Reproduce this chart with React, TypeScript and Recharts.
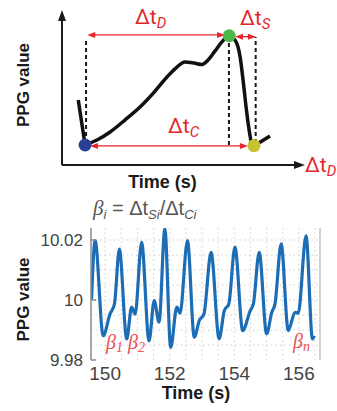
import React from "react";
import {
  ComposedChart,
  LineChart,
  Line,
  XAxis,
  YAxis,
  ReferenceLine,
  ReferenceDot,
} from "recharts";

// ---- top panel: one pulse, drawn in schematic units (0..100 on both axes)
const leadInX = [6.7, 9.5];
const leadInY = [41.9, 12.9];
const pulseX = [9.5, 14.4, 19.8, 25.9, 32.1, 38.3, 43.2, 47.3, 50.6, 54.3, 57.6, 60.1, 63.0, 65.8, 68.7, 71.2, 73.3, 74.7, 75.9, 77.2, 78.2, 79.0];
const pulseY = [12.9, 16.1, 21.3, 29.0, 37.4, 47.7, 56.8, 63.2, 66.5, 65.8, 64.8, 67.7, 73.6, 79.4, 83.2, 80.6, 69.7, 52.3, 35.5, 20.7, 12.9, 12.3];
const tailX = [79.0, 85.6];
const tailY = [12.3, 18.7];

// foot, systolic peak, end of pulse
const markerX = [9.5, 68.8, 79.0];
const markerY = [12.9, 83.4, 12.5];

// dashed verticals
const guideX = [9.9, 68.7, 79.7];
const guideTop = [81.9, 78.7, 82.6];
const guideBottom = [14.2, 12.9, 14.2];

// Δt_D, Δt_S, Δt_C intervals
const spanStart = [10.4, 71.2, 11.5];
const spanEnd = [67.1, 79.8, 76.5];
const spanY = [83.9, 82.8, 12.3];

// ---- bottom panel: PPG trace
const ppgTime = [
  149.58, 149.69, 149.94, 150.15, 150.29, 150.44, 150.67, 150.82, 150.93, 151.13,
  151.36, 151.52, 151.67, 151.85, 152.03, 152.22, 152.32, 152.55, 152.76, 152.92,
  153.06, 153.28, 153.53, 153.69, 153.83, 154.02, 154.26, 154.49, 154.59, 154.77,
  155.0, 155.16, 155.26, 155.45, 155.67, 155.88, 155.98, 156.22, 156.42, 156.47,
];
const ppgValue = [
  10.0003, 10.0198, 9.9881, 9.9953, 9.9987, 10.017, 9.987, 9.9976, 9.9953, 10.0192,
  9.9864, 9.9998, 9.9926, 10.0237, 9.9842, 9.9976, 9.9956, 10.0198, 9.9876, 9.9933,
  9.9953, 10.0159, 9.9871, 9.9964, 9.9987, 10.0176, 9.9898, 9.9964, 9.9987, 10.0159,
  9.9887, 9.9959, 9.9987, 10.0187, 9.9898, 9.9959, 9.9956, 10.0214, 9.987, 9.9881,
];
const timeTicks = [150, 152, 154, 156];
const valueTicks = [9.98, 10, 10.02];
const timeDomain = [149.563, 156.653];
const valueDomain = [9.98, 10.024];
const gridTimes = [150, 150.5, 151, 151.5, 152, 152.5, 153, 153.5, 154, 154.5, 155, 155.5, 156, 156.5];
const gridValues = [9.985, 9.99, 9.995, 10, 10.005, 10.01, 10.015, 10.02];

const toPoints = (xs: number[], ys: number[]) => xs.map((x, i) => ({ x, y: ys[i] }));
const leadIn = toPoints(leadInX, leadInY);
const pulse = toPoints(pulseX, pulseY);
const tail = toPoints(tailX, tailY);
const ppgData = ppgTime.map((t, i) => ({ t, v: ppgValue[i] }));

const RED = "#e4252b";
const SOFT_RED = "#ea5055";
const BLUE = "#1c6db5";
const MARKER_FILL = ["#2a3f96", "#4bb84a", "#c4c332"];
const SANS = "'Liberation Sans', Arial, sans-serif";

// line with filled arrow heads, drawn from the coordinates Recharts hands over
const arrow = (color: string, width: number, len: number, half: number, both: boolean) => (p: any) => {
  const { x1, y1, x2, y2 } = p;
  const a = Math.atan2(y2 - y1, x2 - x1);
  const c = Math.cos(a);
  const s = Math.sin(a);
  const head = (x: number, y: number, dir: number) => {
    const bx = x - dir * len * c;
    const by = y - dir * len * s;
    return `${x},${y} ${bx - half * s},${by + half * c} ${bx + half * s},${by - half * c}`;
  };
  return (
    <g>
      <line
        x1={both ? x1 + len * 0.6 * c : x1}
        y1={both ? y1 + len * 0.6 * s : y1}
        x2={x2 - len * 0.6 * c}
        y2={y2 - len * 0.6 * s}
        stroke={color}
        strokeWidth={width}
      />
      <polygon points={head(x2, y2, 1)} fill={color} />
      {both && <polygon points={head(x1, y1, -1)} fill={color} />}
    </g>
  );
};

const ValueTick = (p: any) => {
  const { x, y, payload } = p;
  return (
    <g>
      <line x1={x + 8} x2={x + 13} y1={y} y2={y} stroke="#8a8a8a" strokeWidth={1.5} />
      <text x={x} y={y} dy="0.36em" textAnchor="end" fontSize={17} fill="#444" fontFamily={SANS}>
        {payload.value}
      </text>
    </g>
  );
};

const Delta = ({ x, y, sub }: { x: number; y: number; sub: string }) => (
  <text x={x} y={y} fill={RED} fontFamily="Roboto, sans-serif" fontSize={21}>
    Δt
    <tspan fontSize={15} dy={4} fontStyle="italic">{sub}</tspan>
  </text>
);

const Beta = ({ x, y, sub }: { x: number; y: number; sub: string }) => (
  <text x={x} y={y} fill={SOFT_RED} fontFamily="'Liberation Serif', serif" fontStyle="italic" fontSize={20}>
    β
    <tspan fontSize={14} dy={3}>{sub}</tspan>
  </text>
);

export default function App() {
  return (
    <div style={{ position: "absolute", left: 0, top: 0, width: 337, height: 411, background: "#fff", overflow: "hidden" }}>
      <div style={{ position: "absolute", left: 0, top: 0 }}>
        <ComposedChart width={337} height={200} margin={{ top: 10, right: 32, bottom: 35, left: 62 }}>
          <XAxis type="number" dataKey="x" domain={[0, 100]} hide />
          <YAxis type="number" domain={[0, 100]} hide />
          {guideX.map((gx, i) => (
            <ReferenceLine
              key={"g" + i}
              segment={[{ x: gx, y: guideBottom[i] }, { x: gx, y: guideTop[i] }]}
              stroke="#1a1a1a"
              strokeWidth={2}
              strokeDasharray="4 3"
            />
          ))}
          {spanStart.map((sx, i) => (
            <ReferenceLine
              key={"s" + i}
              segment={[{ x: sx, y: spanY[i] }, { x: spanEnd[i], y: spanY[i] }]}
              ifOverflow="visible"
              shape={arrow(RED, 1.3, 8, 3, true)}
            />
          ))}
          <ReferenceLine segment={[{ x: 0, y: 0 }, { x: 0, y: 100 }]} ifOverflow="visible" shape={arrow("#1a1a1a", 2, 11, 4, false)} />
          <ReferenceLine segment={[{ x: 0, y: 0 }, { x: 100, y: 0 }]} ifOverflow="visible" shape={arrow("#1a1a1a", 2, 11, 4, false)} />
          <Line data={leadIn} dataKey="y" type="linear" stroke="#111" strokeWidth={3.5} dot={false} activeDot={false} isAnimationActive={false} />
          <Line data={pulse} dataKey="y" type="monotone" stroke="#111" strokeWidth={3.5} dot={false} activeDot={false} isAnimationActive={false} />
          <Line data={tail} dataKey="y" type="linear" stroke="#111" strokeWidth={3.5} dot={false} activeDot={false} isAnimationActive={false} />
          {markerX.map((mx, i) => (
            <ReferenceDot key={"m" + i} x={mx} y={markerY[i]} r={6.5} fill={MARKER_FILL[i]} stroke="none" ifOverflow="visible" />
          ))}
        </ComposedChart>
      </div>

      <div style={{ position: "absolute", left: 0, top: 200 }}>
        <LineChart width={337} height={211} data={ppgData} margin={{ top: 28, right: 17, bottom: 21, left: 31 }}>
          {gridValues.map((g) => (
            <ReferenceLine key={"h" + g} y={g} stroke="#cfcfcf" strokeDasharray="1.5 3" />
          ))}
          {gridTimes.map((g) => (
            <ReferenceLine key={"v" + g} x={g} stroke="#cfcfcf" strokeDasharray="1.5 3" />
          ))}
          <ReferenceLine x={timeDomain[1]} stroke="#c4c4c4" strokeWidth={1.5} ifOverflow="visible" />
          <XAxis
            type="number"
            dataKey="t"
            domain={timeDomain}
            ticks={timeTicks}
            allowDataOverflow
            axisLine={false}
            tickLine={false}
            tickSize={0}
            tickMargin={7}
            height={30}
            tick={{ fontSize: 19, fill: "#444", fontFamily: SANS }}
          />
          <YAxis
            type="number"
            domain={valueDomain}
            ticks={valueTicks}
            allowDataOverflow
            width={60}
            axisLine={{ stroke: "#8a8a8a", strokeWidth: 1.5 }}
            tickLine={false}
            tickSize={0}
            tickMargin={8}
            tick={<ValueTick />}
          />
          <Line dataKey="v" type="monotone" stroke={BLUE} strokeWidth={3.2} dot={false} activeDot={false} isAnimationActive={false} />
        </LineChart>
      </div>

      <svg width={337} height={411} style={{ position: "absolute", left: 0, top: 0, pointerEvents: "none" }}>
        <text x={29} y={85} transform="rotate(-90 29 85)" textAnchor="middle" fontFamily={SANS} fontWeight="bold" fontSize={17} fill="#1a1a1a">
          PPG value
        </text>
        <text x={162.5} y={188} textAnchor="middle" fontFamily={SANS} fontWeight="bold" fontSize={18} fill="#1a1a1a">
          Time (s)
        </text>
        <Delta x={135} y={24} sub="D" />
        <Delta x={240} y={25} sub="S" />
        <Delta x={168} y={133} sub="C" />
        <Delta x={305} y={172} sub="D" />

        <text x={93} y={215} fontFamily={SANS} fontSize={20} fill="#555">
          <tspan fontFamily="'Liberation Serif', serif" fontStyle="italic" fontSize={21}>β</tspan>
          <tspan fontSize={13} dy={4} fontStyle="italic">i</tspan>
          <tspan dy={-4}> = Δt</tspan>
          <tspan fontSize={13} dy={4} fontStyle="italic">Si</tspan>
          <tspan dy={-4}>/Δt</tspan>
          <tspan fontSize={13} dy={4} fontStyle="italic">Ci</tspan>
        </text>
        <text x={29} y={299.5} transform="rotate(-90 29 299.5)" textAnchor="middle" fontFamily={SANS} fontWeight="bold" fontSize={17} fill="#1a1a1a">
          PPG value
        </text>
        <text x={196} y={399} textAnchor="middle" fontFamily={SANS} fontWeight="bold" fontSize={18} fill="#1a1a1a">
          Time (s)
        </text>
        <Beta x={106} y={349} sub="1" />
        <Beta x={128} y={349} sub="2" />
        <Beta x={293} y={348} sub="n" />
      </svg>
    </div>
  );
}
